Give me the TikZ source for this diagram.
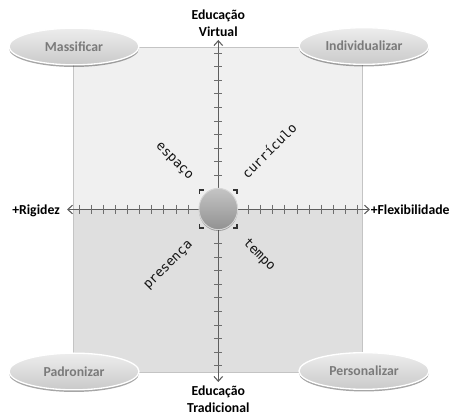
\documentclass[tikz,border=0pt]{standalone}
\usepackage{fontspec}
\setmainfont{Carlito}
\newfontfamily\wordfont{DejaVu Sans Mono}
\usetikzlibrary{arrows.meta,shapes.geometric,shadows}
\definecolor{topfill}{HTML}{F0F0F0}
\definecolor{botfill}{HTML}{DFDFDF}
\definecolor{sqline}{HTML}{C4C4C4}
\definecolor{axiscol}{HTML}{5E5E5E}
\definecolor{tickcol}{HTML}{6E6E6E}
\definecolor{pilltext}{HTML}{7A7A7A}
\tikzset{
  axisline/.style={draw=axiscol, line width=0.8pt, {Straight Barb[length=3.6pt,width=6.5pt]}-{Straight Barb[length=3.6pt,width=6.5pt]}},
  tickline/.style={draw=tickcol, line width=0.6pt},
  axlabel/.style={font=\fontsize{10.3}{12.75}\selectfont\bfseries, text=black, align=center, inner sep=0pt},
  sidelabel/.style={font=\fontsize{10.3}{12.75}\selectfont\bfseries, text=black, inner sep=0pt},
  pill/.style={ellipse, minimum width=97.5pt, minimum height=27.5pt, inner sep=0pt,
    top color=white!93!black, bottom color=white!79!black, draw=white, line width=1pt,
    drop shadow={shadow xshift=0pt, shadow yshift=-1.6pt, fill=black, opacity=0.35},
    font=\fontsize{10.3}{12}\selectfont\bfseries, text=pilltext},
  ballnode/.style={ellipse, minimum width=29pt, minimum height=31pt, inner sep=0pt,
    top color=white!77!black, bottom color=white!57!black, draw=white!84!black, line width=0.7pt,
    drop shadow={shadow xshift=0pt, shadow yshift=-1pt, fill=black, opacity=0.3}},
  bracketline/.style={draw=black!80, line width=0.9pt},
  word/.style={font=\fontsize{9.8}{11}\selectfont\wordfont, text=black!92, inner sep=0pt}
}
\begin{document}
\begin{tikzpicture}[x=0.75pt,y=-0.75pt]
\useasboundingbox (0,0) rectangle (451,417);
\fill[white] (0,0) rectangle (451,417);
% quadrant background
\fill[topfill] (73.5,47) rectangle (362,209.5);
\fill[botfill] (73.5,209.5) rectangle (362,372);
\draw[sqline, line width=0.6pt] (73.5,47) rectangle (362,372);
% axes
\coordinate (W) at (67,209.5);
\coordinate (E) at (370,209.5);
\coordinate (N) at (218.3,40);
\coordinate (S) at (218.3,382);
\draw[axisline] (W) -- (E);
\draw[axisline] (S) -- (N);
\foreach \k in {0,...,9}{
  \draw[tickline] ({218.3-12.1*(2.5+\k)},205) -- ++(0,9);
  \draw[tickline] ({218.3+12.1*(2.5+\k)},205) -- ++(0,9);
  \draw[tickline] (214.3,{209.5-13.6*(2.5+\k)}) -- ++(8,0);
  \draw[tickline] (214.3,{209.5+13.6*(2.5+\k)}) -- ++(8,0);
}
% axis labels
\node[axlabel] (virt) at (218.3,23.5) {Educação\\Virtual};
\node[axlabel] (trad) at (218.3,399) {Educação\\Tradicional};
\node[sidelabel, anchor=base east] (rig) at (60,214.5) {+Rigidez};
\node[sidelabel, anchor=base west] (flex) at (370.5,214.5) {+Flexibilidade};
% corner pills
\node[pill] (mass) at (74,46.5) {Massificar};
\node[pill] (indiv) at (364,46) {Individualizar};
\node[pill] (padr) at (74,371.5) {Padronizar};
\node[pill] (pers) at (364,371) {Personalizar};
% central ball
\node[ballnode] (ball) at (218.3,209) {};
\draw[bracketline] (199.5,194) -- (199.5,190) -- (203.5,190);
\draw[bracketline] (233,190) -- (237,190) -- (237,194);
\draw[bracketline] (199.5,224) -- (199.5,228) -- (203.5,228);
\draw[bracketline] (233,228) -- (237,228) -- (237,224);
% diagonal words
\node[word, rotate=-45] (esp) at (174,161.7) {espaço};
\node[word, rotate=45] (curr) at (269,150.5) {currículo};
\node[word, rotate=-45] (temp) at (259,255.3) {tempo};
\node[word, rotate=45] (pres) at (169,266) {presença};
\end{tikzpicture}
\end{document}
